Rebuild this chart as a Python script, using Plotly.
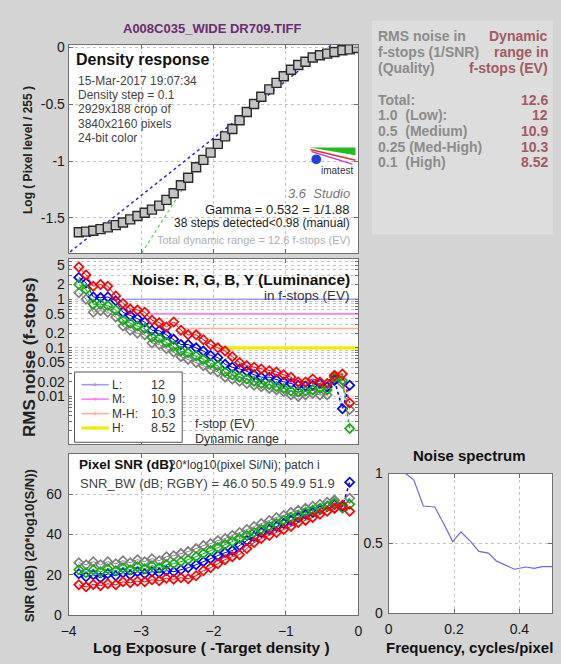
import plotly.graph_objects as go

# ---------------- data ----------------
density_x = [-3.86, -3.76, -3.66, -3.56, -3.46, -3.35, -3.25, -3.15, -3.05, -2.95,
             -2.85, -2.75, -2.65, -2.55, -2.45, -2.35, -2.24, -2.14, -2.04, -1.94,
             -1.84, -1.74, -1.64, -1.54, -1.44, -1.34, -1.23, -1.13, -1.03, -0.93,
             -0.83, -0.73, -0.63, -0.53, -0.43, -0.33, -0.22, -0.12, -0.02]
density_y = [-1.628, -1.622, -1.614, -1.600, -1.585, -1.565, -1.542, -1.514, -1.485, -1.456,
             -1.428, -1.393, -1.342, -1.284, -1.213, -1.147, -1.055, -0.990, -0.926, -0.849,
             -0.783, -0.717, -0.640, -0.568, -0.497, -0.434, -0.368, -0.311, -0.253, -0.196,
             -0.153, -0.125, -0.087, -0.067, -0.053, -0.039, -0.024, -0.016, -0.004]

gamma_fit_x = [-3.98, -0.38]
gamma_fit_y = [-1.80, 0.02]
slope1_x = [-2.99, -2.38]
slope1_y = [-1.81, -1.20]

exposure = density_x[:38]

noise_R = [4.6, 3.16, 1.85, 2.0, 1.85, 1.17, 0.82, 0.63, 0.60, 0.54,
           0.37, 0.33, 0.27, 0.34, 0.23, 0.185, 0.185, 0.147, 0.117, 0.10,
           0.086, 0.066, 0.050, 0.043, 0.040, 0.037, 0.034, 0.032, 0.028, 0.025,
           0.020, 0.020, 0.023, 0.020, 0.0185, 0.027, 0.029, 0.0074]
noise_B = [2.8, 2.15, 1.11, 1.08, 1.11, 0.93, 0.54, 0.46, 0.40, 0.34,
           0.23, 0.225, 0.185, 0.15, 0.117, 0.117, 0.10, 0.086, 0.070, 0.063,
           0.046, 0.040, 0.037, 0.033, 0.028, 0.025, 0.025, 0.022, 0.020, 0.0185,
           0.017, 0.0165, 0.017, 0.0185, 0.0158, 0.0216, 0.0056, 0.017]
noise_G = [2.0, 1.58, 0.79, 0.79, 0.74, 0.60, 0.37, 0.32, 0.28, 0.25,
           0.166, 0.158, 0.13, 0.108, 0.086, 0.079, 0.068, 0.058, 0.048, 0.043,
           0.032, 0.028, 0.025, 0.023, 0.0206, 0.0185, 0.0177, 0.0158, 0.0147, 0.013,
           0.0126, 0.013, 0.0137, 0.0147, 0.0137, 0.025, 0.0216, 0.0022]
noise_Y = [1.36, 1.0, 0.54, 0.58, 0.54, 0.43, 0.28, 0.23, 0.20, 0.185,
           0.126, 0.117, 0.096, 0.082, 0.066, 0.058, 0.050, 0.043, 0.036, 0.032,
           0.025, 0.0226, 0.0206, 0.0185, 0.017, 0.0158, 0.0147, 0.0137, 0.0126, 0.0108,
           0.010, 0.0108, 0.0116, 0.0108, 0.0108, 0.0216, 0.0185, 0.0054]

snr_R = [15.0, 14.0, 15.2, 14.6, 15.5, 15.0, 16.5, 16.0, 16.8, 16.5,
         17.5, 17.0, 18.3, 17.8, 18.5, 18.0, 19.5, 22.0, 23.5, 25.5,
         27.5, 29.0, 30.0, 33.0, 36.0, 38.0, 39.5, 41.0, 42.5, 44.0,
         46.0, 47.0, 48.5, 50.0, 51.5, 53.0, 54.5, 51.5]
snr_B = [20.5, 19.0, 20.0, 18.5, 20.5, 19.5, 21.0, 20.0, 21.5, 20.5,
         21.5, 21.0, 22.0, 21.5, 22.5, 23.5, 25.0, 26.5, 28.0, 29.5,
         31.0, 32.0, 34.5, 37.0, 39.0, 41.0, 42.5, 44.0, 45.5, 47.0,
         48.5, 50.0, 51.0, 52.5, 54.0, 55.0, 54.0, 66.0]
snr_G = [22.5, 21.0, 22.5, 21.5, 23.0, 22.0, 23.5, 22.5, 24.0, 23.0,
         24.5, 23.5, 25.0, 25.5, 26.5, 27.5, 29.0, 30.5, 32.0, 33.5,
         35.0, 36.5, 38.0, 39.5, 41.0, 42.5, 44.0, 45.5, 47.0, 48.5,
         49.5, 51.0, 52.0, 53.0, 54.0, 55.5, 53.0, 55.0]
snr_Y = [26.0, 25.0, 26.5, 25.0, 26.5, 25.5, 27.0, 26.0, 27.5, 26.5,
         28.0, 27.0, 29.0, 29.5, 30.5, 31.5, 33.0, 34.5, 35.5, 37.0,
         38.0, 39.5, 41.0, 42.5, 44.0, 45.5, 47.0, 48.5, 49.5, 51.0,
         52.0, 53.0, 54.0, 55.0, 56.0, 57.0, 54.0, 58.0]

thr_names = ["L:", "M:", "M-H:", "H:"]
thr_levels = [1.0, 0.5, 0.25, 0.1]
thr_start = [-3.22, -2.88, -2.40, -1.90]
thr_dr = ["12", "10.9", "10.3", "8.52"]

spec_f = [0.052, 0.077, 0.106, 0.141, 0.166, 0.196, 0.221, 0.251, 0.276, 0.305,
          0.330, 0.385, 0.420, 0.445, 0.470, 0.500]
spec_v = [1.0, 0.953, 0.767, 0.760, 0.651, 0.512, 0.581, 0.512, 0.442, 0.430,
          0.372, 0.314, 0.330, 0.321, 0.333, 0.333]

panel_left = ["RMS noise in", "f-stops (1/SNR)", "(Quality)", "", "Total:", "1.0  (Low):",
              "0.5  (Medium)", "0.25 (Med-High)", "0.1  (High)"]
panel_right = ["Dynamic", "range in", "f-stops (EV)", "", "12.6", "12", "10.9", "10.3", "8.52"]

# ---------------- styling ----------------
W, H = 561, 664
FONT = "Liberation Sans, Arial, sans-serif"


def PX(X):
    return X / W


def PY(Y):
    return 1 - Y / H


thr_colors = ["#9c9cff", "#ff7cff", "#ffae90", "#f0ec00"]
thr_widths = [1.6, 1.6, 1.6, 3.2]
ch_colors = {"Y": "#808080", "B": "#0000ff", "G": "#10b010", "R": "#ff0000"}

fig = go.Figure()

# density response
fig.add_trace(go.Scatter(x=gamma_fit_x, y=gamma_fit_y, mode="lines",
                         line=dict(color="#2a2ad8", width=1.5, dash="dot"), xaxis="x", yaxis="y"))
fig.add_trace(go.Scatter(x=slope1_x, y=slope1_y, mode="lines",
                         line=dict(color="#55cc55", width=1.2, dash="dot"), xaxis="x", yaxis="y"))
fig.add_trace(go.Scatter(x=density_x, y=density_y, mode="lines+markers",
                         line=dict(color="#404040", width=0.8),
                         marker=dict(symbol="square", size=9, color="#c4c4c4",
                                     line=dict(color="#2a2a2a", width=1.4)),
                         xaxis="x", yaxis="y"))

# noise thresholds
for lvl, st, c, w in zip(thr_levels, thr_start, thr_colors, thr_widths):
    fig.add_trace(go.Scatter(x=[st, 0], y=[lvl, lvl], mode="lines",
                             line=dict(color=c, width=w), xaxis="x2", yaxis="y2"))

noise = {"Y": noise_Y, "B": noise_B, "G": noise_G, "R": noise_R}
snr = {"Y": snr_Y, "B": snr_B, "G": snr_G, "R": snr_R}
for key in ["Y", "B", "G", "R"]:
    c = ch_colors[key]
    for data, ax, ay in [(noise[key], "x2", "y2"), (snr[key], "x3", "y3")]:
        fig.add_trace(go.Scatter(x=exposure[:36], y=data[:36], mode="lines+markers",
                                 line=dict(color=c, width=1),
                                 marker=dict(symbol="diamond-open", size=7, color=c,
                                             line=dict(color=c, width=1.7)),
                                 xaxis=ax, yaxis=ay))
        fig.add_trace(go.Scatter(x=exposure[35:], y=data[35:], mode="lines+markers",
                                 line=dict(color=c, width=1.5, dash="dot"),
                                 marker=dict(symbol="diamond-open", size=7, color=c,
                                             line=dict(color=c, width=1.7)),
                                 xaxis=ax, yaxis=ay))

# noise spectrum
fig.add_trace(go.Scatter(x=spec_f, y=spec_v, mode="lines",
                         line=dict(color="#6a6ae6", width=1.2), xaxis="x4", yaxis="y4"))

# ---------------- axes ----------------
base = dict(showline=True, linecolor="#707070", linewidth=1, mirror="ticks",
            ticks="inside", ticklen=4, tickcolor="#707070",
            showgrid=True, gridcolor="#c4c4c4", griddash="dot", gridwidth=1,
            zeroline=False, tickfont=dict(family=FONT, size=14, color="#1a1a1a"))

xdom = [PX(62), PX(358)]
xt = dict(tickvals=[-4, -3, -2, -1, 0])

log_vals, log_text = [], []
labelled = {0.01: "0.01", 0.02: "0.02", 0.05: "0.05", 0.1: "0.1", 0.2: "0.2",
            0.5: "0.5", 1.0: "1", 2.0: "2", 5.0: "5"}
for dec in [0.001, 0.01, 0.1, 1.0]:
    for m in range(1, 10):
        v = round(m * dec, 6)
        if v > 6.8:
            continue
        log_vals.append(v)
        log_text.append(labelled.get(v, ""))

fig.update_layout(
    width=W, height=H, margin=dict(l=0, r=0, t=0, b=0),
    paper_bgcolor="#d4d4d4", plot_bgcolor="white", showlegend=False,
    font=dict(family=FONT),
    xaxis=dict(base, domain=xdom, range=[-4, 0], showticklabels=False, anchor="y", **xt),
    yaxis=dict(base, domain=[PY(251), PY(38)], range=[-1.81, 0.022], anchor="x",
               tickvals=[-1.5, -1, -0.5, 0], ticktext=["-1.5", "-1", "-0.5", "0"]),
    xaxis2=dict(base, domain=xdom, range=[-4, 0], showticklabels=False, anchor="y2", **xt),
    yaxis2=dict(base, domain=[PY(447), PY(257)], type="log", range=[-2.98, 0.83], anchor="x2",
                tickvals=log_vals, ticktext=log_text, ticklen=3),
    xaxis3=dict(base, domain=xdom, range=[-4, 0], anchor="y3", ticklabelstandoff=3, **xt),
    yaxis3=dict(base, domain=[PY(622), PY(457)], range=[0, 80], anchor="x3",
                ticklabelstandoff=3, tickvals=[0, 20, 40, 60]),
    xaxis4=dict(base, domain=[PX(389), PX(556)], range=[0, 0.5], anchor="y4",
                ticklabelstandoff=3,
                tickvals=[0, 0.2, 0.4], ticktext=["0", "0.2", "0.4"]),
    yaxis4=dict(base, domain=[PY(620), PY(477)], range=[0, 1], anchor="x4",
                ticklabelstandoff=2, tickvals=[0, 0.5, 1], ticktext=["0", "0.5", "1"]),
)

# ---------------- annotations ----------------
ann = []


def txt(X, Y, s, size=12, color="#222", anchor="left", angle=0):
    ann.append(dict(x=PX(X), y=PY(Y), xref="paper", yref="paper", text=s, showarrow=False,
                    xanchor=anchor, yanchor="middle", textangle=angle, borderpad=0,
                    font=dict(family=FONT, size=size, color=color)))


txt(209, 21, "<b>A008C035_WIDE DR709.TIFF</b>", 13, "#6b2c72", "center")
txt(21, 146, "<b>Log ( Pixel level / 255 )</b>", 12, "#222", "center", -90)
txt(22, 358, "<b>RMS noise (f-stops)</b>", 17, "#222", "center", -90)
txt(22, 551, "<b>SNR (dB) (20*log10(S/N))</b>", 13, "#222", "center", -90)

txt(68, 53, "<b>Density response</b>", 16, "#111")
for i, s in enumerate(["15-Mar-2017 19:07:34", "Density step = 0.1", "2929x188 crop of",
                       "3840x2160 pixels", "24-bit color"]):
    txt(70, 75 + i * 14.5, s, 12, "#444")
txt(351, 190, "<i>3.6  Studio</i>", 13, "#777", "right")
txt(351, 206, "Gamma = 0.532 = 1/1.88", 13, "#222", "right")
txt(351, 220, "38 steps detected<0.98 (manual)", 12, "#222", "right")
txt(352, 238, "Total dynamic range = 12.6 f-stops (EV)", 11, "#b0b0b0", "right")
txt(336, 166, "imatest", 10, "#333", "center")

txt(351, 278, "<b>Noise: R, G, B, Y (Luminance)</b>", 15.5, "#111", "right")
txt(351, 295, "in f-stops (EV)", 13.5, "#333", "right")
for i, (n, d) in enumerate(zip(thr_names, thr_dr)):
    txt(105, 386 + i * 14.8, n, 12, "#333")
    txt(145, 386 + i * 14.8, d, 12.5, "#333")
txt(190, 426, "f-stop (EV)", 12.5, "#333")
txt(190, 442, "Dynamic range", 12.5, "#333")

txt(72, 468, "<b>Pixel SNR (dB)</b>", 13.5, "#111")
txt(163, 468, "20*log10(pixel Si/Ni); patch i", 12, "#333")
txt(73, 487, "SNR_BW (dB; RGBY) = 46.0 50.5 49.9 51.9", 13, "#444")
txt(208, 655, "<b>Log Exposure ( -Target density )</b>", 15.5, "#111", "center")

txt(472, 459, "<b>Noise spectrum</b>", 15, "#111", "center")
txt(385, 655, "<b>Frequency, cycles/pixel</b>", 15, "#111", "left")

for i, (l, r) in enumerate(zip(panel_left, panel_right)):
    Y = 29 + i * 16.3 if i < 3 else 94 + (i - 4) * 16
    if l:
        txt(377, Y, "<b>%s</b>" % l, 14, "#8c8c8c")
    if r:
        txt(553, Y, "<b>%s</b>" % r, 14, "#a35a60", "right")

fig.update_layout(annotations=ann)

# ---------------- shapes ----------------
shapes = []
shapes.append(dict(type="rect", xref="paper", yref="paper", x0=PX(372), x1=PX(557),
                   y0=PY(232), y1=PY(13), fillcolor="#dddddd", line=dict(width=0), layer="below"))
# legend box
shapes.append(dict(type="rect", xref="paper", yref="paper", x0=PX(68), x1=PX(178),
                   y0=PY(445), y1=PY(373), fillcolor="white", line=dict(color="#555", width=1),
                   layer="above"))
for i, (c, w) in enumerate(zip(thr_colors, thr_widths)):
    Y = 386 + i * 14.8
    shapes.append(dict(type="line", xref="paper", yref="paper", x0=PX(75), x1=PX(103),
                       y0=PY(Y), y1=PY(Y), line=dict(color=c, width=w)))
    shapes.append(dict(type="circle", xref="paper", yref="paper", x0=PX(87.5), x1=PX(90.5),
                       y0=PY(Y + 1.5), y1=PY(Y - 1.5), fillcolor=c, line=dict(width=0)))


def path(pts):
    return "M " + " L ".join("%f,%f" % (PX(a), PY(b)) for a, b in pts) + " Z"


shapes.append(dict(type="path", xref="paper", yref="paper",
                   path=path([(308, 143), (355, 143), (355, 151)]),
                   fillcolor="#22bb22", line=dict(width=0)))
shapes.append(dict(type="line", xref="paper", yref="paper", x0=PX(309), y0=PY(145),
                   x1=PX(355), y1=PY(156), line=dict(color="#e03030", width=1.5)))
shapes.append(dict(type="line", xref="paper", yref="paper", x0=PX(310), y0=PY(147),
                   x1=PX(352), y1=PY(160), line=dict(color="#d040d0", width=1.5)))
shapes.append(dict(type="circle", xref="paper", yref="paper", x0=PX(310), x1=PX(320),
                   y0=PY(160), y1=PY(150), fillcolor="#2040e0", line=dict(width=0)))
fig.update_layout(shapes=shapes)

fig.write_html("out.html")
